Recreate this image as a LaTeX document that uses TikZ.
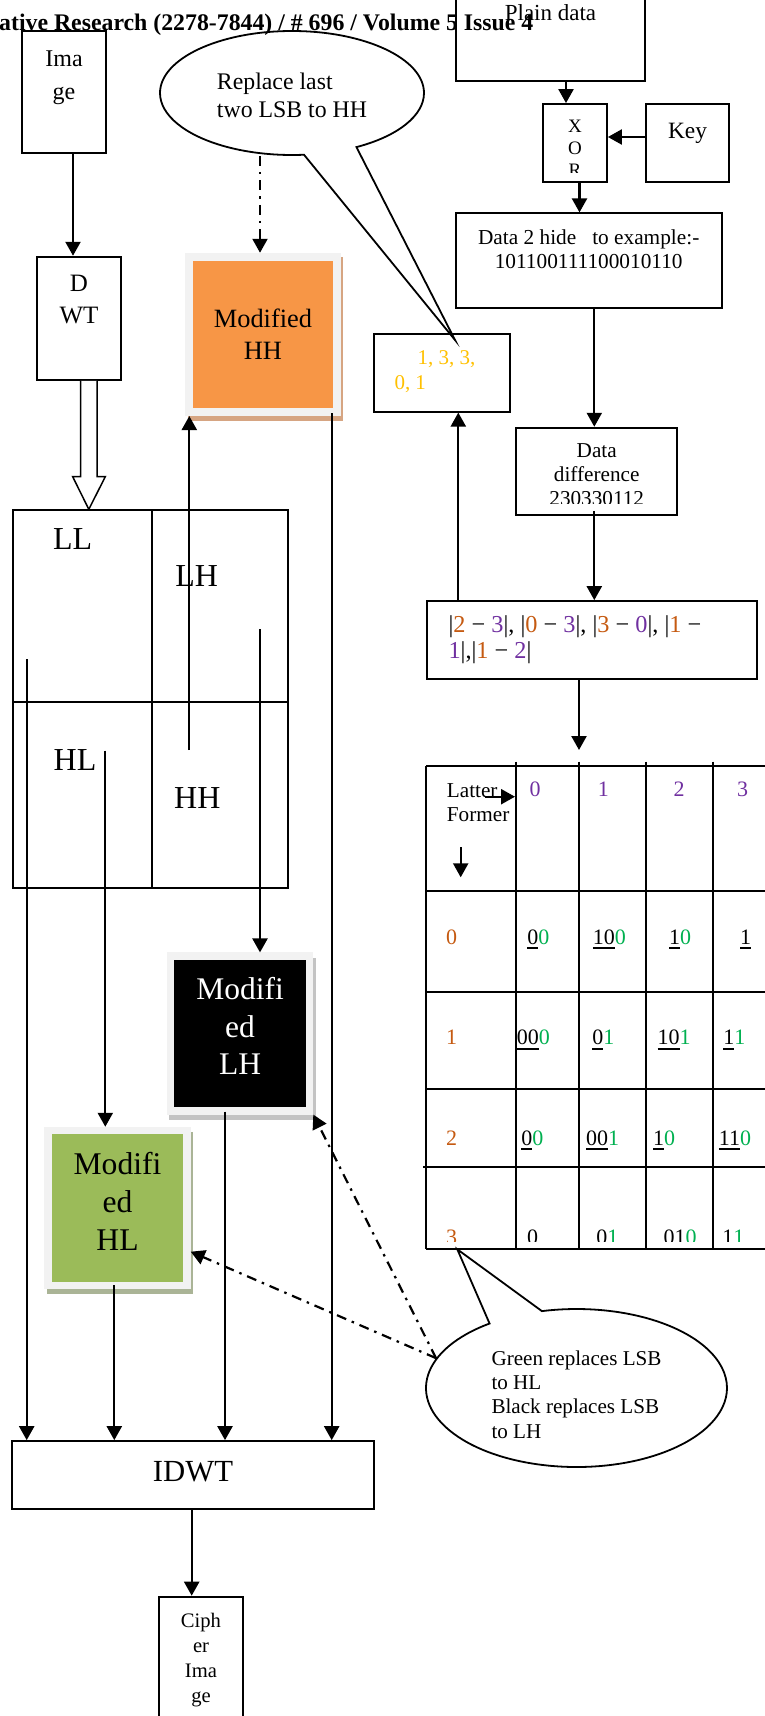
\documentclass[tikz,border=0pt]{standalone}
\usepackage{fontspec}
\setmainfont{Liberation Serif}
\usetikzlibrary{arrows.meta,shapes.callouts}
\pgfdeclarelayer{bg}
\pgfsetlayers{bg,main}
\definecolor{orng}{HTML}{F79646}
\definecolor{grn}{HTML}{9BBB59}
\definecolor{frm}{HTML}{F2F2F2}
\definecolor{shtan}{RGB}{214,165,130}
\definecolor{shgray}{RGB}{195,195,195}
\definecolor{shgrn}{RGB}{170,180,150}
\definecolor{gold}{HTML}{FFC000}
\definecolor{brn}{HTML}{C55A11}
\definecolor{purp}{HTML}{7030A0}
\definecolor{dgrn}{HTML}{00B050}
\newcommand{\fsz}[2]{\fontsize{#1}{#2}\selectfont}
\newcommand{\dstrut}[1]{\rule[-#1]{0pt}{#1}}
\newcommand{\hstrut}[1]{\rule{0pt}{#1}}
\newcommand{\undl}[1]{\setbox0\hbox{#1}\rlap{\rule[-5pt]{\wd0}{1.8pt}}\box0}
\newcommand{\gd}[1]{\textcolor{dgrn}{#1}}
\newcommand{\bn}[1]{\textcolor{brn}{#1}}
\newcommand{\pu}[1]{\textcolor{purp}{#1}}
\begin{document}
\begin{tikzpicture}[x=1pt,y=-1pt,
 bx/.style={draw,line width=1.8pt,inner sep=0pt,align=center},
 txt/.style={inner sep=0pt,align=center},
 arr/.style={line width=2.3pt,-{Triangle[length=14pt,width=15pt]}},
 dasharr/.style={line width=2.2pt,dash pattern=on 10pt off 6pt on 2.5pt off 6pt,-{Triangle[length=14pt,width=15pt]}},
 tline/.style={line width=2pt},
 mbox/.style={inner sep=0pt,align=center,draw=frm},
 bubble/.style={draw,line width=1.8pt,ellipse callout,inner sep=0pt,align=left},
 tnum/.style={inner sep=0pt,anchor=base,font=\fsz{22}{26}}
]
\useasboundingbox (0,0) rectangle (765,1716);
\clip (0,0) rectangle (765,1716);

% header
\node[txt,anchor=base west,font=\bfseries\fsz{23.8}{28}] (hdr) at (-1,30) {ative Research (2278-7844) / \# 696 / Volume 5 Issue 4};

% top right chain
\node[bx,minimum width=189pt,minimum height=101pt,font=\fsz{23}{27}] (plain) at (550.5,30.5) {Plain data\dstrut{35pt}};
\node[bx,minimum width=64pt,minimum height=78pt] (xor) at (575,143) {};
\begin{scope}
\clip (543,104) rectangle (607,172);
\node[txt,font=\fsz{19}{21.7}] (xort) at (575,148.4) {X\\O\\R};
\end{scope}
\node[bx,minimum width=83pt,minimum height=78pt,font=\fsz{23.4}{27}] (key) at (687.5,143) {Key\dstrut{24.7pt}};
\node[bx,minimum width=266pt,minimum height=94.4pt,font=\fsz{21.3}{24.4}] (data) at (588.7,260.5) {Data 2 hide~~~to example:-\\101100111100010110\dstrut{22.4pt}};
\node[bx,minimum width=136pt,minimum height=77.4pt] (seq) at (442,373) {};
\node[txt,align=left,anchor=west,text=gold,font=\fsz{21}{25.4}] (seqt) at (394.3,371.6) {\hspace*{23pt}1, 3, 3,\\0, 1};
\node[bx,minimum width=160.7pt,minimum height=87.3pt] (diff) at (596.3,471.3) {};
\begin{scope}
\clip (516,428) rectangle (677,503);
\node[txt,font=\fsz{21.2}{24}] (difft) at (596.7,474.8) {Data\\difference\\230330112};
\end{scope}
\node[bx,minimum width=330.6pt,minimum height=78.3pt] (absd) at (592,640.2) {};
\node[txt,align=left,anchor=west,font=\fsz{24.3}{25.7}] (absdt) at (448.3,640) {|\bn{2} − \pu{3}|, |\bn{0} − \pu{3}|, |\bn{3} − \pu{0}|, |\bn{1} −\\\pu{1}|,|\bn{1} − \pu{2}|};

\coordinate (pxa) at ([xshift=-9pt]xor.north);
\draw[arr] (pxa |- plain.south) -- (pxa);
\draw[arr] ([yshift=6pt]key.west) -- ([yshift=6pt]xor.east);
\coordinate (xda) at ([xshift=4.5pt]xor.south);
\draw[arr] (xda) -- (xda |- data.north);
\coordinate (ddx) at ([xshift=5.6pt]data.south);
\draw[arr] (ddx) -- (ddx |- diff.north);
\coordinate (dax) at ([xshift=-2pt,yshift=5pt]diff.south);
\draw[arr] (dax) -- (dax |- absd.north);
\coordinate (asx) at ([xshift=-133.7pt]absd.north);
\draw[arr] (asx) -- (asx |- seq.south);
\coordinate (tarr) at (579,750);
\draw[arr] (tarr |- absd.south) -- (tarr);

% table
\draw[tline] (426,765.7) -- (780,765.7);
\draw[tline] (426,765.7) -- (426,1249);
\draw[tline] (426,1249) -- (780,1249);
\foreach \cx in {516,579,645.7,713.3} \draw[tline] (\cx,761.7) -- (\cx,1249);
\foreach \ry in {891,992.3,1089.3} \draw[tline] (426,\ry) -- (780,\ry);
\draw[tline] (423.3,1167.3) -- (780,1167.3);
\node[txt,align=left,anchor=north west,font=\fsz{21.2}{24}] (lf) at (446.7,783) {Latter\\Former};
\coordinate (la1) at (485,796.7); \coordinate (la2) at (515,796.7);
\draw[arr] (la1) -- (la2);
\coordinate (fa1) at (460.7,847.3); \coordinate (fa2) at (460.7,877.3);
\draw[arr] (fa1) -- (fa2);
\node[tnum,text=purp] (h0) at (535,796.7) {0};
\node[tnum,text=purp] (h1) at (603.3,796.7) {1};
\node[tnum,text=purp] (h2) at (679,796.7) {2};
\node[tnum,text=purp] (h3) at (742.7,796.7) {3};
\node[tnum,text=brn] (r0) at (451.7,944.1) {0};
\node[tnum,text=brn] (r1) at (451.7,1044.7) {1};
\node[tnum,text=brn] (r2) at (451.7,1145.1) {2};
\node[tnum] (c00) at (538.3,944.1) {\undl{0}\gd{0}};
\node[tnum] (c01) at (609.3,944.1) {\undl{10}\gd{0}};
\node[tnum] (c02) at (680,944.1) {\undl{1}\gd{0}};
\node[tnum] (c03) at (745.7,944.1) {\undl{1}};
\node[tnum] (c10) at (533.3,1044.7) {\undl{00}\gd{0}};
\node[tnum] (c11) at (603.3,1044.7) {\undl{0}\gd{1}};
\node[tnum] (c12) at (674,1044.7) {\undl{10}\gd{1}};
\node[tnum] (c13) at (734.3,1044.7) {\undl{1}\gd{1}};
\node[tnum] (c20) at (532.3,1145.1) {\undl{0}\gd{0}};
\node[tnum] (c21) at (602.7,1145.1) {\undl{00}\gd{1}};
\node[tnum] (c22) at (664,1145.1) {\undl{1}\gd{0}};
\node[tnum] (c23) at (735,1145.1) {\undl{11}\gd{0}};
\begin{scope}
\clip (420,1169) rectangle (780,1241);
\node[tnum,text=brn] (r3) at (451.7,1244.1) {3};
\node[tnum] (c30) at (532.7,1244.1) {0};
\node[tnum] (c31) at (607.3,1244.1) {0\gd{1}};
\node[tnum] (c32) at (680,1244.1) {01\gd{0}};
\node[tnum] (c33) at (733.3,1244.1) {1\gd{1}};
\end{scope}

% left chain
\node[bx,minimum width=84pt,minimum height=122pt,font=\fsz{24}{33.4}] (img) at (64,92) {Ima\\ge\dstrut{34.2pt}};
\node[bx,minimum width=83.4pt,minimum height=123.3pt,font=\fsz{25}{32}] (dwt) at (79,318.3) {D\\WT\dstrut{38.6pt}};
\draw[arr] ([xshift=9pt]img.south) -- ([xshift=-6pt]dwt.north);
\draw[line width=1.5pt,fill=white] ([xshift=1.7pt]dwt.south) -- (80.7,476.7) -- (72.7,476.7) -- (88.8,509.3) -- (105.3,476.7) -- (97,476.7) -- ([xshift=18pt]dwt.south);

\node[bx,anchor=north west,minimum width=139pt,minimum height=191.7pt] (ll) at (11.7,509.3) {};
\node[bx,anchor=north west,minimum width=136.6pt,minimum height=191.7pt] (lh) at (150.7,509.3) {};
\node[bx,anchor=north west,minimum width=139pt,minimum height=185.7pt] (hl) at (11.7,701) {};
\node[bx,anchor=north west,minimum width=136.6pt,minimum height=185.7pt] (hh) at (150.7,701) {};
\node[txt,font=\fsz{32}{36}] (llt) at (72.7,539.3) {LL};
\node[txt,font=\fsz{32}{36}] (lht) at (196.7,576) {LH};
\node[txt,font=\fsz{32}{36}] (hlt) at (75,760) {HL};
\node[txt,font=\fsz{32}{36}] (hht) at (197.3,798.3) {HH};

\node[mbox,fill=orng,line width=8.3pt,minimum width=147.5pt,minimum height=155pt,font=\fsz{26.4}{32.3}] (mhh) at (263,334.4) {Modified\\HH};
\node[mbox,fill=black,text=white,line width=7.6pt,minimum width=139pt,minimum height=154.6pt,font=\fsz{31.5}{37.8}] (mlh) at (240,1033.5) {Modifi\\ed\\LH\dstrut{15pt}};
\node[mbox,fill=grn,line width=7.5pt,minimum width=139pt,minimum height=155pt,font=\fsz{31.6}{38}] (mhl) at (117.5,1208) {Modifi\\ed\\HL\dstrut{13.4pt}};
\begin{pgfonlayer}{bg}
\fill[shtan] ([shift={(2.5,4.5)}]mhh.north west) rectangle ([shift={(2.5,4.5)}]mhh.south east);
\fill[shgray] ([shift={(2.4,5.7)}]mlh.north west) rectangle ([shift={(2.4,5.7)}]mlh.south east);
\fill[shgrn] ([shift={(2.6,5)}]mhl.north west) rectangle ([shift={(2.6,5)}]mhl.south east);
\end{pgfonlayer}

\node[bx,minimum width=362.6pt,minimum height=68.3pt,font=\fsz{30.7}{34}] (idwt) at (193,1475.2) {IDWT\dstrut{7pt}};
\node[bx,anchor=north,minimum width=83.4pt,minimum height=140pt,font=\fsz{20.6}{25}] (ciph) at (201,1595.7) {Ciph\\er\\Ima\\ge\dstrut{17.9pt}};

\coordinate (llsrc) at (26.7,659);
\draw[arr] (llsrc) -- (llsrc |- idwt.north);
\coordinate (lhsrc) at (260,629);
\draw[arr] (lhsrc) -- (lhsrc |- mlh.north);
\coordinate (hhsrc) at (189.3,750);
\draw[arr] (hhsrc) -- (hhsrc |- mhh.south);
\coordinate (hlsrc) at (105.3,750.7);
\draw[arr] (hlsrc) -- (hlsrc |- mhl.north);
\coordinate (mhho) at ([xshift=68.7pt,yshift=3pt]mhh.south);
\draw[arr] (mhho) -- (mhho |- idwt.north);
\coordinate (mlho) at ([xshift=-15pt,yshift=3pt]mlh.south);
\draw[arr] (mlho) -- (mlho |- idwt.north);
\coordinate (mhlo) at ([xshift=-3.2pt,yshift=4pt]mhl.south);
\draw[arr] (mhlo) -- (mhlo |- idwt.north);
\coordinate (ico) at ([xshift=-1.3pt]idwt.south);
\draw[arr] (ico) -- (ico |- ciph.north);

% callouts
\node[bubble,minimum width=264pt,minimum height=124pt,callout absolute pointer={(455,340)},callout pointer arc=24,font=\fsz{23.8}{28.3}] (ell1) at (292,93) {\hstrut{21.9pt}Replace last\\two LSB to HH};
\node[bubble,minimum width=301pt,minimum height=158pt,callout absolute pointer={(457.3,1249.3)},callout pointer arc=22,font=\fsz{21.1}{24.3}] (ell2) at (576.5,1388) {\hstrut{27.8pt}Green replaces LSB\\to HL\\Black replaces LSB\\to LH};

\coordinate (dh) at ([xshift=-3pt]mhh.north);
\draw[dasharr] (dh |- ell1.south) -- (dh);
\draw[dasharr] (ell2.168) -- (mlh.south east);
\draw[dasharr] (ell2.168) -- ([yshift=-43.7pt]mhl.east);
\end{tikzpicture}
\end{document}
